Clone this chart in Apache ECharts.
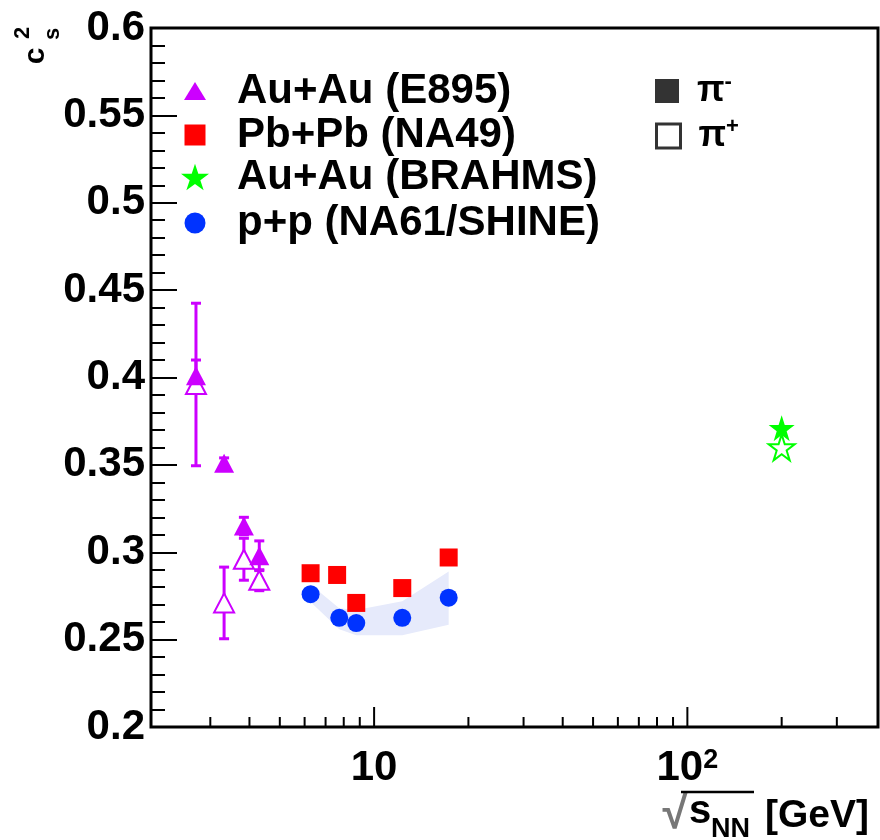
<!DOCTYPE html>
<html>
<head>
<meta charset="utf-8">
<script src="https://cdn.jsdelivr.net/npm/echarts@6/dist/echarts.min.js"></script>
<style>
html, body { margin: 0; padding: 0; background: #fff; }
#chart { width: 880px; height: 840px; }
</style>
</head>
<body>
<div id="chart"></div>
<script>
// E895 Au+Au, pi- filled / pi+ open
const e895Energy = [2.70, 3.32, 3.84, 4.30];
const e895PiMinus = [0.401, 0.351, 0.315, 0.298];
const e895PiMinusErr = [0.009, 0.003, 0.005, 0.0085];
const e895PiPlus = [0.396, 0.271, 0.296, 0.284];
const e895PiPlusErr = [0.0465, 0.0205, 0.012, 0.006];

// NA49 Pb+Pb, pi-
const na49Energy = [6.27, 7.62, 8.77, 12.3, 17.3];
const na49PiMinus = [0.288, 0.287, 0.271, 0.2795, 0.297];

// NA61/SHINE p+p, pi- with systematic band
const na61Energy = [6.27, 7.74, 8.77, 12.3, 17.3];
const na61PiMinus = [0.276, 0.2625, 0.2595, 0.2625, 0.274];
const na61SysLow = [0.2715, 0.256, 0.2525, 0.2525, 0.2585];
const na61SysHigh = [0.2815, 0.268, 0.267, 0.272, 0.289];

// BRAHMS Au+Au
const brahmsEnergy = [200];
const brahmsPiMinus = [0.371];
const brahmsPiPlus = [0.360];

const xMajorTicks = [10, 100];
const xMinorTicks = [3, 4, 5, 6, 7, 8, 9, 20, 30, 40, 50, 60, 70, 80, 90, 200, 300];

const FONT = '"Liberation Sans", Arial, sans-serif';
const MAGENTA = '#cc00ff';
const RED = '#ff0000';
const GREEN = '#00ff00';
const BLUE = '#0033ff';
const BAND = '#e6eafb';
const STAR = 'path://M0,-10L2.245,-3.09L9.51,-3.09L3.633,1.18L5.878,8.09L0,3.82L-5.878,8.09L-3.633,1.18L-9.51,-3.09L-2.245,-3.09Z';

const X_MIN = 1.94, X_MAX = 406;
const Y_MIN = 0.2, Y_MAX = 0.6;

const errData = [];
e895Energy.forEach((e, i) => {
	errData.push([e, e895PiMinus[i] - e895PiMinusErr[i], e895PiMinus[i] + e895PiMinusErr[i]]);
	errData.push([e, e895PiPlus[i] - e895PiPlusErr[i], e895PiPlus[i] + e895PiPlusErr[i]]);
});

// x tick marks: [value, axis min, tick length]
const xTickData = xMajorTicks.map((v) => [v, Y_MIN, 20]).concat(xMinorTicks.map((v) => [v, Y_MIN, 10]));

const zip = (xs, ys) => xs.map((x, i) => [x, ys[i]]);

// one legend per row so each marker can have its own size; text starts at x=237
function legendRow(name, icon, w, h, top) {
	const left = 195 - w / 2;
	return {
		orient: 'vertical', left, top, padding: 0, itemWidth: w, itemHeight: h,
		selectedMode: false,
		textStyle: { fontFamily: FONT, fontWeight: 'bold', fontSize: 42, color: '#000', lineHeight: 44, padding: [0, 0, 0, 237 - left - w - 5] },
		data: [{ name, icon }],
	};
}

// charge legend rows (pi-, pi+)
function chargeRow(name, itemStyle, top) {
	return {
		orient: 'vertical', left: 655, top, padding: 0, itemWidth: 24, itemHeight: 24,
		selectedMode: false,
		formatter: (n) => (n === 'pim' ? '{p|π}{s|-}' : '{p|π}{s|+}'),
		textStyle: {
			padding: [0, 0, 0, 13],
			rich: {
				p: { fontFamily: FONT, fontWeight: 'bold', fontSize: 36, color: '#000', lineHeight: 40 },
				s: { fontFamily: FONT, fontWeight: 'bold', fontSize: 22, color: '#000', lineHeight: 40, verticalAlign: 'top', padding: [0, 0, 12, 0] },
			},
		},
		data: [{ name, icon: 'rect', itemStyle }],
	};
}

const chart = echarts.init(document.getElementById('chart'));
chart.setOption({
	animation: false,
	textStyle: { fontFamily: FONT },
	grid: { left: 151, top: 28, width: 727, height: 699, show: true, borderColor: '#000', borderWidth: 3, backgroundColor: 'transparent' },
	xAxis: {
		type: 'log', logBase: 10, min: X_MIN, max: X_MAX,
		axisLine: { show: false },
		splitLine: { show: false },
		axisTick: { show: false },
		axisLabel: {
			customValues: xMajorTicks,
			margin: 20,
			formatter: (v) => (Math.round(v) === 10 ? '{b|10}' : '{b|10}{s|2}'),
			rich: {
				b: { fontFamily: FONT, fontWeight: 'bold', fontSize: 42, color: '#000', lineHeight: 42 },
				s: { fontFamily: FONT, fontWeight: 'bold', fontSize: 27, color: '#000', lineHeight: 42, verticalAlign: 'top', padding: [0, 0, 14, 0] },
			},
		},
	},
	yAxis: {
		type: 'value', min: Y_MIN, max: Y_MAX, interval: 0.05,
		axisLine: { show: false },
		splitLine: { show: false },
		axisTick: { show: true, inside: true, length: 26, lineStyle: { color: '#000', width: 2 } },
		minorTick: { show: true, splitNumber: 5, length: 14, lineStyle: { color: '#000', width: 2 } },
		axisLabel: {
			margin: 6,
			fontFamily: FONT, fontWeight: 'bold', fontSize: 42, color: '#000',
			formatter: (v) => String(+v.toFixed(2)),
		},
	},
	legend: [
		legendRow('Au+Au (E895)', 'triangle', 22, 18, 69),
		legendRow('Pb+Pb (NA49)', 'rect', 21, 21, 113),
		legendRow('Au+Au (BRAHMS)', STAR, 28, 28, 155),
		legendRow('p+p (NA61/SHINE)', 'circle', 21, 21, 201),
		chargeRow('pim', { color: '#000' }, 71),
		chargeRow('pip', { color: '#fff', borderColor: '#000', borderWidth: 3 }, 116),
	],
	graphic: [
		// y title: c_s^2, rotated
		{ type: 'text', x: 36, y: 56, rotation: Math.PI / 2, style: { text: 'c', font: 'bold 30px ' + FONT, fill: '#000', textAlign: 'center', textVerticalAlign: 'middle' } },
		{ type: 'text', x: 23, y: 33, rotation: Math.PI / 2, style: { text: '2', font: 'bold 22px ' + FONT, fill: '#000', textAlign: 'center', textVerticalAlign: 'middle' } },
		{ type: 'text', x: 53, y: 34, rotation: Math.PI / 2, style: { text: 's', font: 'bold 22px ' + FONT, fill: '#000', textAlign: 'center', textVerticalAlign: 'middle' } },
		// x title: sqrt(s_NN) [GeV]
		{ type: 'text', x: 675, y: 815, style: { text: '√', font: 'bold 46px ' + FONT, fill: '#777', textAlign: 'center', textVerticalAlign: 'middle' } },
		{ type: 'line', shape: { x1: 681, y1: 792, x2: 754, y2: 792 }, style: { stroke: '#000', lineWidth: 2.5 } },
		{ type: 'text', x: 689, y: 812, style: { text: 's', font: 'bold 40px ' + FONT, fill: '#000', textAlign: 'left', textVerticalAlign: 'middle' } },
		{ type: 'text', x: 711, y: 830, style: { text: 'NN', font: 'bold 27px ' + FONT, fill: '#000', textAlign: 'left', textVerticalAlign: 'middle' } },
		{ type: 'text', x: 765, y: 816, style: { text: '[GeV]', font: 'bold 39px ' + FONT, fill: '#000', textAlign: 'left', textVerticalAlign: 'middle' } },
	],
	series: [
		{
			name: 'x ticks', type: 'custom', z: 5, silent: true, clip: false,
			data: xTickData,
			encode: { x: 0, y: 1 },
			renderItem: (params, api) => {
				const p = api.coord([api.value(0), api.value(1)]);
				return {
					type: 'line',
					shape: { x1: p[0], y1: p[1], x2: p[0], y2: p[1] - api.value(2) },
					style: { stroke: '#000', lineWidth: 2 },
				};
			},
		},
		{
			name: 'NA61 sys', type: 'custom', z: 1, silent: true,
			data: na61Energy.map((e, i) => [e, na61SysLow[i], na61SysHigh[i]]),
			encode: { x: 0, y: [1, 2] },
			renderItem: (params, api) => {
				if (params.dataIndex !== 0) return null;
				const pts = [];
				na61Energy.forEach((e, i) => pts.push(api.coord([e, na61SysHigh[i]])));
				for (let i = na61Energy.length - 1; i >= 0; i--) pts.push(api.coord([na61Energy[i], na61SysLow[i]]));
				return { type: 'polygon', shape: { points: pts }, style: { fill: BAND } };
			},
		},
		{
			name: 'E895 err', type: 'custom', z: 2, silent: true,
			data: errData,
			encode: { x: 0, y: [1, 2] },
			renderItem: (params, api) => {
				const lo = api.coord([api.value(0), api.value(1)]);
				const hi = api.coord([api.value(0), api.value(2)]);
				const st = { stroke: MAGENTA, lineWidth: 3 };
				return {
					type: 'group',
					children: [
						{ type: 'line', shape: { x1: lo[0], y1: lo[1], x2: hi[0], y2: hi[1] }, style: st },
						{ type: 'line', shape: { x1: lo[0] - 5, y1: lo[1], x2: lo[0] + 5, y2: lo[1] }, style: st },
						{ type: 'line', shape: { x1: hi[0] - 5, y1: hi[1], x2: hi[0] + 5, y2: hi[1] }, style: st },
					],
				};
			},
		},
		{
			name: 'E895 pi+', type: 'scatter', z: 3, symbol: 'triangle', symbolSize: [20, 19],
			itemStyle: { color: '#fff', borderColor: MAGENTA, borderWidth: 2, opacity: 1 },
			data: zip(e895Energy, e895PiPlus),
		},
		{
			name: 'Au+Au (E895)', type: 'scatter', z: 4, symbol: 'triangle', symbolSize: [20, 19],
			itemStyle: { color: MAGENTA, opacity: 1 },
			data: zip(e895Energy, e895PiMinus),
		},
		{
			name: 'p+p (NA61/SHINE)', type: 'scatter', z: 3, symbol: 'circle', symbolSize: 18,
			itemStyle: { color: BLUE, opacity: 1 },
			data: zip(na61Energy, na61PiMinus),
		},
		{
			name: 'Pb+Pb (NA49)', type: 'scatter', z: 4, symbol: 'rect', symbolSize: 18,
			itemStyle: { color: RED, opacity: 1 },
			data: zip(na49Energy, na49PiMinus),
		},
		{
			name: 'BRAHMS pi+', type: 'scatter', z: 3, symbol: STAR, symbolSize: 26,
			itemStyle: { color: '#fff', borderColor: GREEN, borderWidth: 2, opacity: 1 },
			data: zip(brahmsEnergy, brahmsPiPlus),
		},
		{
			name: 'Au+Au (BRAHMS)', type: 'scatter', z: 4, symbol: STAR, symbolSize: 26,
			itemStyle: { color: GREEN, opacity: 1 },
			data: zip(brahmsEnergy, brahmsPiMinus),
		},
		{ name: 'pim', type: 'scatter', data: [], itemStyle: { color: '#000' } },
		{ name: 'pip', type: 'scatter', data: [], itemStyle: { color: '#fff', borderColor: '#000', borderWidth: 3 } },
	],
});
</script>
</body>
</html>
